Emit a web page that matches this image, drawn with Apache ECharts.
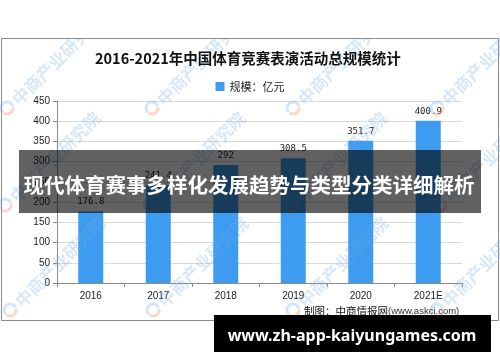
<!DOCTYPE html>
<html>
<head>
<meta charset="utf-8">
<script src="https://cdn.jsdelivr.net/npm/echarts@6/dist/echarts.min.js"></script>
<style>
  html, body { margin: 0; padding: 0; background: #fff; }
  #chart { width: 500px; height: 362px; }
</style>
</head>
<body>
<div id="chart"></div>
<script>
// Market size of sports competition performance activities, 2016-2021 (100M CNY)
const years = ['2016', '2017', '2018', '2019', '2020', '2021E'];
const scale = [176.8, 241.4, 292, 308.5, 351.7, 400.9];
const yMin = 0;
const yMax = 450;
const yStep = 50;

const titleText = '2016-2021年中国体育竞赛表演活动总规模统计';
const seriesName = '规模：亿元';
const headline = '现代体育赛事多样化发展趋势与类型分类详细解析';
const siteText = 'www.zh-app-kaiyungames.com';
const creditText = '制图：中商情报网';
const creditUrl = '(www.askci.com)';
const markText = '中商产业研究院';

const BLUE = '#3e9cf0';
const CJK = '"Noto Sans CJK SC", "Noto Sans", sans-serif';

// faint diagonal brand marks tiled across the chart panel
const markAnchors = [
  [7, 108], [152, 108], [293, 108], [437, 108],
  [5, 205], [150, 205], [292, 205], [440, 205],
  [10, 310], [153, 310], [293, 310], [437, 310]
];
const marks = [];
markAnchors.forEach(([x, y]) => {
  marks.push({
    type: 'arc', z: 5, silent: true,
    shape: { cx: x, cy: y, r: 6, startAngle: Math.PI * 0.75, endAngle: Math.PI * 1.9 },
    style: { stroke: 'rgba(110,170,230,0.3)', lineWidth: 3, fill: null }
  });
  marks.push({
    type: 'arc', z: 5, silent: true,
    shape: { cx: x, cy: y, r: 6, startAngle: Math.PI * 1.95, endAngle: Math.PI * 2.7 },
    style: { stroke: 'rgba(240,120,90,0.3)', lineWidth: 3, fill: null }
  });
  marks.push({
    type: 'text', z: 5, silent: true,
    x: x + 8, y: y - 6, rotation: Math.PI / 4,
    style: {
      text: markText, x: 0, y: 0,
      font: 'bold 17px ' + CJK,
      fill: 'rgba(110,170,230,0.28)',
      textAlign: 'left', textVerticalAlign: 'middle'
    }
  });
});

const chart = echarts.init(document.getElementById('chart'), null, { renderer: 'canvas' });

chart.setOption({
  backgroundColor: '#fff',
  animation: false,
  title: {
    text: titleText,
    left: 90,
    top: 46,
    textStyle: { fontFamily: CJK, fontSize: 14.5, fontWeight: 'bold', color: '#111' }
  },
  legend: {
    data: [seriesName],
    left: 'center',
    top: 76,
    icon: 'rect',
    itemWidth: 9,
    itemHeight: 9,
    itemGap: 4,
    textStyle: { fontFamily: CJK, fontSize: 11, color: '#222' }
  },
  grid: { left: 57, right: 38, top: 101, bottom: 79, containLabel: false },
  xAxis: {
    type: 'category',
    data: years,
    boundaryGap: true,
    axisLine: { lineStyle: { color: '#8a8a8a', width: 1 } },
    axisTick: { show: true, alignWithLabel: false, length: 4, lineStyle: { color: '#8a8a8a' } },
    axisLabel: { fontFamily: 'Liberation Sans, sans-serif', fontSize: 10, color: '#222', margin: 8 }
  },
  yAxis: {
    type: 'value',
    min: yMin,
    max: yMax,
    interval: yStep,
    axisLine: { show: true, lineStyle: { color: '#8a8a8a', width: 1 } },
    axisTick: { show: true, length: 4, lineStyle: { color: '#8a8a8a' } },
    axisLabel: { fontFamily: 'Liberation Sans, sans-serif', fontSize: 10, color: '#222', margin: 7 },
    splitLine: { show: true, lineStyle: { color: '#d9d9d9', width: 1 } }
  },
  series: [{
    name: seriesName,
    type: 'bar',
    data: scale,
    barWidth: 25,
    itemStyle: { color: BLUE },
    label: {
      show: true,
      position: 'top',
      distance: 5,
      fontFamily: '"DejaVu Sans Mono", monospace',
      fontSize: 9,
      color: '#222'
    }
  }],
  graphic: [
    // panel frame
    {
      type: 'rect', z: 0, silent: true,
      shape: { x: 1.5, y: 38.5, width: 497, height: 282 },
      style: { fill: null, stroke: '#8c8c8c', lineWidth: 1 }
    },
    ...marks,
    // blank strip above the panel
    {
      type: 'rect', z: 6, silent: true,
      shape: { x: 0, y: 0, width: 500, height: 38 },
      style: { fill: '#fff' }
    },
    // headline band
    {
      type: 'rect', z: 10, silent: true,
      shape: { x: 19, y: 150, width: 462, height: 63 },
      style: { fill: 'rgba(0,0,0,0.62)' }
    },
    {
      type: 'text', z: 11, silent: true,
      x: 249, y: 185,
      style: {
        text: headline,
        font: 'bold 20.5px ' + CJK,
        fill: '#fff',
        textAlign: 'center', textVerticalAlign: 'middle'
      }
    },
    // source credit
    {
      type: 'text', z: 7, silent: true,
      x: 388, y: 311,
      style: {
        text: creditText,
        font: '10.5px ' + CJK,
        fill: '#111',
        textAlign: 'right', textVerticalAlign: 'middle'
      }
    },
    {
      type: 'text', z: 7, silent: true,
      x: 388, y: 311,
      style: {
        text: creditUrl,
        font: '9.5px "Liberation Sans", sans-serif',
        fill: '#333',
        textAlign: 'left', textVerticalAlign: 'middle'
      }
    },
    // site banner
    {
      type: 'rect', z: 10, silent: true,
      shape: { x: 214, y: 315, width: 277, height: 37 },
      style: { fill: '#000' }
    },
    {
      type: 'text', z: 11, silent: true,
      x: 352, y: 336,
      style: {
        text: siteText,
        font: 'bold 16px "Noto Sans", "DejaVu Sans", sans-serif',
        fill: '#fff',
        textAlign: 'center', textVerticalAlign: 'middle'
      }
    }
  ]
});
</script>
</body>
</html>
